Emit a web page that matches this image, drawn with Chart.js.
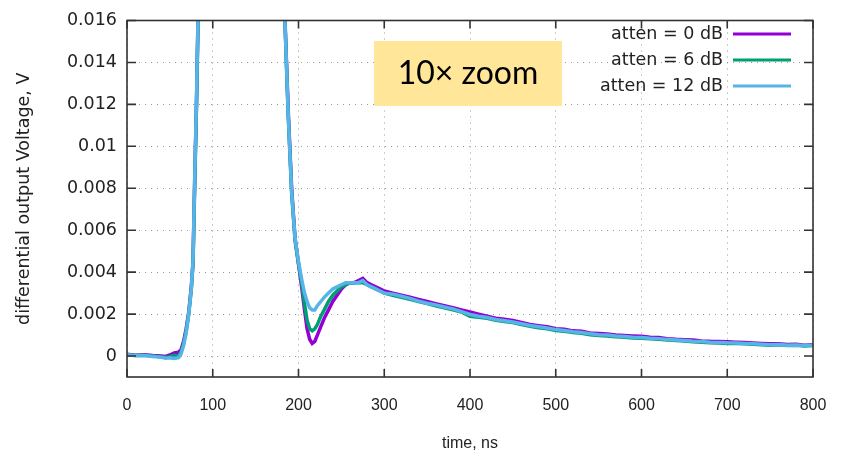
<!DOCTYPE html>
<html>
<head>
<meta charset="utf-8">
<script src="https://cdn.jsdelivr.net/npm/chart.js@4"></script>
<style>
  html, body { margin: 0; padding: 0; background: #fff; }
  #wrap { width: 848px; height: 453px; position: relative; }
</style>
</head>
<body>
<div id="wrap"><canvas id="mainGraph"></canvas></div>
<script>
// time axis, ns
var timeNs = [0, 10, 20, 30, 40, 45, 50, 55, 60, 63, 66, 69, 72, 75, 77, 79, 81, 83, 86, 90,
    100, 120, 140, 160, 170, 176, 180, 184, 188, 192, 196, 200, 204, 207, 210, 213, 216, 219, 222, 226,
    230, 235, 240, 245, 250, 255, 260, 265, 270, 275, 280, 285, 290, 295, 300,
    310, 320, 330, 340, 350, 360, 370, 380, 390, 400, 410, 420, 430, 440, 450, 460, 470, 480, 490, 500,
    510, 520, 530, 540, 550, 560, 570, 580, 590, 600, 610, 620, 630, 640, 650, 660, 670, 680, 690, 700,
    710, 720, 730, 740, 750, 760, 770, 780, 790, 800];

// differential output voltage, V
var atten0 = [0.00008, 0.00004, 0.00006, 0.00002, 0.0, -0.00002, 0.00005, 0.00015, 0.00018, 0.0003, 0.0007, 0.0013, 0.0021, 0.0033, 0.0045, 0.0085, 0.012, 0.0165, 0.022, 0.03,
    0.045, 0.055, 0.056, 0.05, 0.04, 0.031, 0.022, 0.0163, 0.0117, 0.008, 0.0056, 0.0044, 0.0032, 0.0022, 0.0013, 0.0008, 0.0006, 0.0007, 0.001, 0.0014,
    0.0018, 0.0022, 0.0026, 0.0029, 0.0032, 0.0034, 0.0035, 0.0035, 0.0036, 0.0037, 0.0035, 0.0034, 0.0033, 0.0032, 0.0031,
    0.003, 0.0029, 0.0028, 0.0027, 0.0026, 0.0025, 0.0024, 0.0023, 0.0022, 0.0021, 0.002, 0.0019, 0.0018, 0.00175, 0.0017, 0.0016, 0.0015, 0.00145, 0.0014, 0.0013,
    0.00128, 0.0012, 0.00118, 0.0011, 0.00108, 0.00105, 0.001, 0.00098, 0.00096, 0.00094, 0.0009, 0.00088, 0.00083, 0.0008, 0.00078, 0.00076, 0.00072, 0.0007, 0.00069, 0.00068,
    0.00066, 0.00064, 0.00062, 0.0006, 0.00058, 0.00058, 0.00055, 0.00056, 0.00052, 0.00054];

var atten6 = [0.00005, 0.00002, 0.00004, 0.0, -0.00004, -0.00006, -0.00003, 0.00003, 0.0, 0.0002, 0.0006, 0.0012, 0.002, 0.0032, 0.0044, 0.0082, 0.0118, 0.0163, 0.0218, 0.03,
    0.045, 0.055, 0.056, 0.05, 0.04, 0.031, 0.022, 0.0162, 0.0115, 0.0078, 0.0055, 0.0044, 0.0034, 0.0025, 0.0017, 0.0013, 0.0012, 0.0013, 0.0015, 0.0019,
    0.0022, 0.0026, 0.0029, 0.0031, 0.0033, 0.0034, 0.0035, 0.0035, 0.0035, 0.0035, 0.0034, 0.0033, 0.0032, 0.0031, 0.003,
    0.0029, 0.0028, 0.0027, 0.0026, 0.0025, 0.0024, 0.0023, 0.0022, 0.0021, 0.0019, 0.00185, 0.0018, 0.0017, 0.00165, 0.0016, 0.0015, 0.00142, 0.00135, 0.0013, 0.00122,
    0.00118, 0.00112, 0.00108, 0.00102, 0.00098, 0.00096, 0.00092, 0.0009, 0.00086, 0.00085, 0.00082, 0.0008, 0.00076, 0.00074, 0.00072, 0.00068, 0.00066, 0.00063, 0.00062, 0.0006,
    0.0006, 0.00058, 0.00056, 0.00054, 0.00052, 0.00054, 0.0005, 0.00051, 0.00048, 0.0005];

var atten12 = [0.00006, 0.00003, 0.00002, -0.00002, -0.00006, -0.0001, -0.00008, -0.00012, -0.00008, 0.0001, 0.0005, 0.0011, 0.002, 0.0032, 0.0046, 0.0086, 0.0122, 0.0166, 0.022, 0.03,
    0.045, 0.055, 0.056, 0.05, 0.04, 0.031, 0.022, 0.0162, 0.0115, 0.0078, 0.0056, 0.0045, 0.0036, 0.003, 0.0026, 0.0023, 0.0022, 0.0022, 0.0024, 0.0026,
    0.0028, 0.003, 0.0032, 0.0033, 0.0034, 0.0035, 0.0035, 0.0035, 0.0035, 0.0036, 0.0034, 0.0033, 0.0032, 0.0031, 0.003,
    0.00295, 0.00285, 0.00275, 0.00262, 0.00252, 0.00244, 0.00234, 0.00225, 0.00212, 0.00198, 0.0019, 0.00184, 0.00174, 0.00168, 0.00162, 0.00154, 0.00146, 0.0014, 0.00134, 0.00126,
    0.00122, 0.00116, 0.00112, 0.00106, 0.00102, 0.001, 0.00095, 0.00093, 0.0009, 0.00088, 0.00085, 0.00083, 0.00079, 0.00077, 0.00074, 0.00071, 0.00069, 0.00066, 0.00065, 0.00063,
    0.00062, 0.0006, 0.00058, 0.00056, 0.00054, 0.00055, 0.00052, 0.00053, 0.0005, 0.00051];

var seriesNames = ['atten = 0 dB', 'atten = 6 dB', 'atten = 12 dB'];
var seriesColors = ['#9400d3', '#009e73', '#56b4e9'];
var xTicks = [0, 100, 200, 300, 400, 500, 600, 700, 800];
var yTicks = [0, 0.002, 0.004, 0.006, 0.008, 0.01, 0.012, 0.014, 0.016];

function toPoints(vals) {
    return timeNs.map(function (t, i) { return { x: t, y: vals[i] }; });
}

// gnuplot-like frame with inward ticks, key and the note box
var framePlugin = {
    id: 'frame',
    afterDraw: function (chart) {
        var c = chart.ctx, a = chart.chartArea;
        var xs = chart.scales.x, ys = chart.scales.y;
        c.save();
        c.setLineDash([]);
        c.strokeStyle = '#333';
        c.lineWidth = 1.6;
        c.strokeRect(a.left, a.top, a.right - a.left, a.bottom - a.top);
        c.beginPath();
        xTicks.forEach(function (v) {
            var px = xs.getPixelForValue(v);
            c.moveTo(px, a.bottom); c.lineTo(px, a.bottom - 8);
            c.moveTo(px, a.top); c.lineTo(px, a.top + 8);
        });
        yTicks.forEach(function (v) {
            var py = ys.getPixelForValue(v);
            c.moveTo(a.left, py); c.lineTo(a.left + 9, py);
            c.moveTo(a.right, py); c.lineTo(a.right - 9, py);
        });
        c.stroke();

        // key
        c.font = '17.5px "DejaVu Sans"';
        c.textAlign = 'right';
        c.textBaseline = 'middle';
        for (var i = 0; i < seriesNames.length; i++) {
            var ky = 34 + i * 26;
            c.fillStyle = '#222';
            c.fillText(seriesNames[i], 723, ky);
            c.strokeStyle = seriesColors[i];
            c.lineWidth = 3;
            c.beginPath();
            c.moveTo(733, ky); c.lineTo(791, ky);
            c.stroke();
        }

        // note box
        c.fillStyle = '#ffe699';
        c.fillRect(374, 41, 188, 65);
        c.fillStyle = '#000';
        c.font = '32px Lato';
        c.textAlign = 'center';
        c.fillText('10\u00d7 zoom', 468, 74);
        c.restore();
    }
};

var ctx = document.getElementById('mainGraph').getContext('2d');

var chart = new Chart(ctx, {
    type: 'line',
    data: {
        datasets: [
            { label: seriesNames[0], data: toPoints(atten0), borderColor: seriesColors[0], order: 3 },
            { label: seriesNames[1], data: toPoints(atten6), borderColor: seriesColors[1], order: 2 },
            { label: seriesNames[2], data: toPoints(atten12), borderColor: seriesColors[2], order: 1 }
        ]
    },
    options: {
        responsive: true,
        maintainAspectRatio: false,
        animation: false,
        layout: { padding: { left: 0, top: 13, right: 35, bottom: 0 } },
        elements: {
            line: { borderWidth: 3.5, tension: 0, fill: false },
            point: { radius: 0 }
        },
        plugins: {
            legend: { display: false },
            tooltip: { enabled: false }
        },
        scales: {
            x: {
                type: 'linear',
                min: 0,
                max: 800,
                afterBuildTicks: function (s) { s.ticks = xTicks.map(function (v) { return { value: v }; }); },
                afterFit: function (s) { s.height = 76; },
                grid: { color: '#999', drawTicks: false },
                border: { display: false, dash: [1, 5] },
                ticks: {
                    padding: 19,
                    color: '#222',
                    font: { family: '"Liberation Sans"', size: 16 }
                },
                title: {
                    display: true,
                    text: 'time, ns',
                    color: '#222',
                    font: { family: '"Liberation Sans"', size: 16 },
                    padding: { top: 14, bottom: 0 }
                }
            },
            y: {
                min: -0.001,
                max: 0.016,
                afterBuildTicks: function (s) { s.ticks = yTicks.map(function (v) { return { value: v }; }); },
                afterFit: function (s) { s.width = 127; },
                grid: { color: '#999', drawTicks: false },
                border: { display: false, dash: [1, 5] },
                ticks: {
                    padding: 10,
                    color: '#222',
                    font: { family: '"DejaVu Sans"', size: 17.5 },
                    callback: function (v) { return String(+v.toFixed(3)); }
                },
                title: {
                    display: true,
                    text: 'differential output Voltage, V',
                    color: '#222',
                    font: { family: '"DejaVu Sans"', size: 17.5 },
                    padding: { top: 14, bottom: 0 }
                }
            }
        }
    },
    plugins: [framePlugin]
});
</script>
</body>
</html>
